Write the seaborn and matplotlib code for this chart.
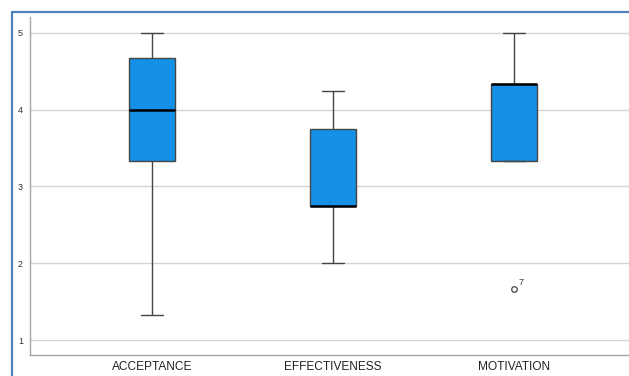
import numpy as np
import pandas as pd
import matplotlib
matplotlib.use("Agg")
import matplotlib.pyplot as plt
from matplotlib.lines import Line2D
import seaborn as sns

# --- data: one score per respondent (case numbers 1..9) ---
acceptance = [4.00, 3.33, 5.00, 4.67, 1.33, 3.67, 4.33, 5.00, 3.00]
effectiveness = [2.75, 3.75, 4.25, 2.00, 2.75, 3.25, 2.50, 4.00, 2.75]
motivation = [4.33, 3.33, 5.00, 4.33, 3.33, 4.67, 1.67, 4.33, 3.33]
variables = ["ACCEPTANCE", "EFFECTIVENESS", "MOTIVATION"]

wide = pd.DataFrame(dict(zip(variables, [acceptance, effectiveness, motivation])))
wide.index = np.arange(1, len(wide) + 1)
long = wide.reset_index().melt(id_vars="index", var_name="variable", value_name="score")

# --- style ---
sns.set_style("white")
plt.rcParams["font.family"] = ["Liberation Sans", "DejaVu Sans"]

W, H = 629, 376
fig = plt.figure(figsize=(W / 100, H / 100), dpi=100)
ax = fig.add_axes([30 / W, 1 - 355 / H, 1 - 30 / W, (355 - 17) / H])

sns.boxplot(
    data=long, x="variable", y="score", order=variables, ax=ax,
    color="#1490E6", saturation=1, width=0.25, whis=1.5,
    linewidth=1, linecolor="#454545",
    medianprops=dict(color="black", linewidth=1.8),
    flierprops=dict(marker="o", markersize=4, markerfacecolor="white",
                    markeredgecolor="#444444", markeredgewidth=0.9),
)

# label outliers with their case number
for i, var in enumerate(variables):
    vals = wide[var]
    q1, q3 = np.percentile(vals, [25, 75])
    iqr = q3 - q1
    out = vals[(vals < q1 - 1.5 * iqr) | (vals > q3 + 1.5 * iqr)]
    for case, v in out.items():
        ax.annotate(str(case), (i, v), xytext=(3, 1.5), textcoords="offset points",
                    fontsize=6.5, color="#333333", va="bottom", ha="left")

ax.set_xlim(-0.674, 2.635)
ax.set_ylim(0.805, 5.208)
ax.set_yticks([1, 2, 3, 4, 5])
ax.set_xlabel("")
ax.set_ylabel("")
ax.yaxis.grid(True, color="#d4d4d4", linewidth=1)
ax.set_axisbelow(True)
for side in ["top", "right"]:
    ax.spines[side].set_visible(False)
for side in ["left", "bottom"]:
    ax.spines[side].set_color("#a8a8a8")
    ax.spines[side].set_linewidth(1)
ax.tick_params(axis="y", length=0, pad=5, labelsize=6.5, labelcolor="#333333")
ax.tick_params(axis="x", length=0, pad=4, labelsize=8.6, labelcolor="#222222")

# blue outer frame of the output panel
fc = "#4F81BD"
fig.add_artist(Line2D([12 / W, 12 / W], [0, 1 - 12 / H], color=fc, linewidth=1.6))
fig.add_artist(Line2D([12 / W, 1], [1 - 12 / H, 1 - 12 / H], color=fc, linewidth=1.6))

fig.savefig("out.png", dpi=100)
